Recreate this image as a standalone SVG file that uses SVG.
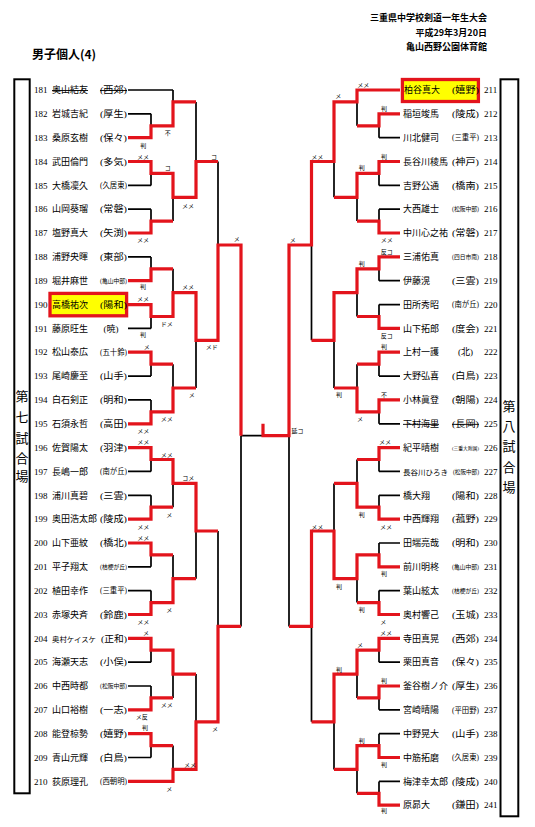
<svg xmlns="http://www.w3.org/2000/svg" width="535" height="827" viewBox="0 0 535 827">
<style>
.bk{fill:none;stroke:#000;stroke-width:1.7}
.rd{fill:none;stroke:#e3141c;stroke-width:3.2;stroke-linejoin:miter}
.frame{fill:none;stroke:#000;stroke-width:2}
.hl{fill:#ffff00;stroke:#e3141c;stroke-width:3.3}
.num{font-family:"Liberation Serif",serif;font-size:9px}
.nm{font-family:"Liberation Serif","Noto Sans CJK JP",serif;font-size:9px}
.sc{font-family:"Liberation Serif","Noto Sans CJK JP",serif;text-anchor:middle}
.s9{font-size:9px}.s75{font-size:7.5px}.s6{font-size:6px}.s5{font-size:5px}
.st{text-decoration:line-through}
.lb{font-family:"Noto Sans CJK JP",sans-serif;font-size:6px;text-anchor:middle;dominant-baseline:central}
.hd{font-family:"Noto Sans CJK JP",sans-serif;font-weight:bold;font-size:9px;text-anchor:end}
.vt{font-family:"Noto Sans CJK JP",sans-serif;font-size:13px;text-anchor:middle;dominant-baseline:central}
</style>
<rect width="535" height="827" fill="#fff"/>
<g id="header">
<text class="hd" x="487" y="21">三重県中学校剣道一年生大会</text>
<text class="hd" x="487" y="36">平成29年3月20日</text>
<text class="hd" x="487" y="50">亀山西野公園体育館</text>
<text x="32" y="59" style="font-family:'Noto Sans CJK JP',sans-serif;font-weight:bold;font-size:12px">男子個人(4)</text>
</g>
<g id="court7">
<rect class="frame" x="14.3" y="79.3" width="15.4" height="714"/>
<text class="vt" x="22" y="395">第</text><text class="vt" x="22" y="416">七</text><text class="vt" x="22" y="437">試</text><text class="vt" x="22" y="457">合</text><text class="vt" x="22" y="475">場</text>
</g>
<g id="court8">
<rect class="frame" x="500.5" y="79.3" width="17.8" height="737"/>
<text class="vt" x="509" y="405">第</text><text class="vt" x="509" y="425">八</text><text class="vt" x="509" y="445">試</text><text class="vt" x="509" y="466">合</text><text class="vt" x="509" y="486">場</text>
</g>
<g id="connectors">
<path class="bk" d="M128 90H173M128 113.8H151M128 185.4H151M128 209.2H151M128 256.9H151M128 328.4H151M128 376.1H151M128 399.9H151M128 471.4H151M128 495.3H151M128 566.8H151M128 590.6H151M128 662.2H151M128 686H151M128 757.5H151
M151 113.8V125.8M151 173.4V185.4M151 209.2V221.1M151 256.9V268.8M151 316.5V328.4M151 364.2V376.1M151 399.9V411.8M151 459.5V471.4M151 495.3V507.2M151 554.9V566.8M151 590.6V602.6M151 650.2V662.2M151 686V697.9M151 745.6V757.5
M173 90V101.9M173 197.3V221.1M173 268.8V292.6M173 364.2V388M173 483.4V507.2M173 554.9V578.7M173 674.1V697.9M173 745.6V769.4
M196 101.9V161.5M196 340.3V388M196 531V578.7M196 674.1V721.8
M218 161.5V245M218 531V626.4
M241 435.7V626.4M241 435.7H263
M379 137.7H400M379 185.4H400M379 209.2H400M379 280.7H400M379 304.6H400M379 376.1H400M379 423.8H400M379 471.4H400M379 495.3H400M379 543H400M379 590.6H400M379 662.2H400M379 709.8H400M379 733.7H400M379 781.4H400
M379 125.8V137.7M379 173.4V185.4M379 209.2V221.1M379 268.8V280.7M379 304.6V316.5M379 364.2V376.1M379 411.8V423.8M379 459.5V471.4M379 495.3V507.2M379 543V554.9M379 590.6V602.6M379 650.2V662.2M379 697.9V709.8M379 733.7V745.6M379 781.4V793.3
M357 101.9V125.8M357 197.3V221.1M357 292.6V316.5M357 364.2V388M357 459.5V483.4M357 578.7V602.6M357 674.1V697.9M357 769.4V793.3
M334 161.5V197.3M334 340.3V388M334 483.4V531M334 721.8V769.4
M311.5 245V340.3M311.5 626.4V721.8
M289 435.7V626.4"/>
<path class="rd" d="M128 137.7H151V125.8H173V101.9H196
M128 161.5H151V173.4H173V197.3H196V161.5H218
M128 233H151V221.1H173
M128 280.7H151V268.8H173
M128 304.6H151V316.5H173V292.6H196V340.3H218V245H241V435.7
M128 352.2H151V364.2H173
M128 423.8H151V411.8H173V388H196
M128 447.6H151V459.5H173V483.4H196V531H218
M128 519.1H151V507.2H173
M128 543H151V554.9H173
M128 614.5H151V602.6H173V578.7H196
M128 638.3H151V650.2H173V674.1H196
M128 709.8H151V697.9H173
M128 733.7H151V745.6H173
M128 781.4H173V769.4H196V721.8H218V626.4H241
M400 90H357V101.9H334V161.5H311.5V245H289V435.7H263V423.8
M400 113.8H379V125.8H357
M400 161.5H379V173.4H357V197.3H334
M400 233H379V221.1H357
M400 256.9H379V268.8H357V292.6H334V340.3H311.5
M400 328.4H379V316.5H357
M400 352.2H379V364.2H357
M400 399.9H379V411.8H357V388H334
M400 447.6H379V459.5H357
M400 519.1H379V507.2H357V483.4H334
M400 566.8H379V554.9H357V578.7H334V531H311.5V626.4H289
M400 614.5H379V602.6H357
M400 638.3H379V650.2H357V674.1H334V721.8H311.5
M400 686H379V697.9H357
M400 757.5H379V745.6H357V769.4H334
M400 805.2H379V793.3H357"/>
</g>
<g id="labels">
<text class="lb" x="167.7" y="132.3">不</text><text class="lb" x="143.3" y="145">判</text><text class="lb" x="143" y="156">メメ</text><text class="lb" x="167.7" y="167.7">コ</text><text class="lb" x="188" y="205">メメ</text><text class="lb" x="143" y="239">メメ</text><text class="lb" x="214" y="156">コ</text><text class="lb" x="236.7" y="238.3">メ</text><text class="lb" x="143" y="286.7">判</text><text class="lb" x="143" y="298">メメ</text><text class="lb" x="166.7" y="323">ドメ</text><text class="lb" x="143" y="334">判</text><text class="lb" x="188" y="286.7">メメ</text><text class="lb" x="211.7" y="346.7">メド</text><text class="lb" x="146.7" y="346.7">メ</text><text class="lb" x="191.7" y="394">メ</text><text class="lb" x="166.7" y="418">メメ</text><text class="lb" x="143.3" y="430">メメ</text><text class="lb" x="143.3" y="441.7">メメ</text><text class="lb" x="166.7" y="454">メメ</text><text class="lb" x="188.3" y="477.7">コメ</text><text class="lb" x="169.3" y="514">メ</text><text class="lb" x="143.3" y="526">メメ</text><text class="lb" x="143.3" y="537.7">メメ</text><text class="lb" x="169.3" y="609.3">メ</text><text class="lb" x="143.3" y="621">メメ</text><text class="lb" x="146" y="632.7">メ</text><text class="lb" x="166.7" y="704.3">メメ</text><text class="lb" x="141.7" y="716">メ反</text><text class="lb" x="145" y="727.3">判</text><text class="lb" x="215" y="728.3">メ</text><text class="lb" x="190" y="764">メメ</text><text class="lb" x="169.3" y="788.3">メ</text>
<text class="lb" x="363.3" y="84.3">メメ</text><text class="lb" x="338.3" y="95.7">メ</text><text class="lb" x="384" y="108.3">判</text><text class="lb" x="317.3" y="156">メメ</text><text class="lb" x="384" y="156">判</text><text class="lb" x="361.7" y="167.7">判</text><text class="lb" x="386.7" y="239">メメ</text><text class="lb" x="292.7" y="239">メ</text><text class="lb" x="386.7" y="251">反コ</text><text class="lb" x="361.7" y="263.3">判</text><text class="lb" x="386.7" y="335">反コ</text><text class="lb" x="384" y="346.7">判</text><text class="lb" x="339" y="394.3">判</text><text class="lb" x="384" y="394">不</text><text class="lb" x="360" y="418.3">メ</text><text class="lb" x="385" y="441.7">メメ</text><text class="lb" x="297.5" y="430">延コ</text><text class="lb" x="361.7" y="514">判</text><text class="lb" x="386" y="526">メメ</text><text class="lb" x="317.3" y="526">メメ</text><text class="lb" x="339" y="586">判</text><text class="lb" x="384" y="573.3">判</text><text class="lb" x="361.7" y="609.3">判</text><text class="lb" x="383.3" y="621">メ</text><text class="lb" x="386" y="632.7">メメ</text><text class="lb" x="360" y="644">メ</text><text class="lb" x="339" y="669.3">判</text><text class="lb" x="384" y="680">判</text><text class="lb" x="361.7" y="740">判</text><text class="lb" x="384" y="764">判</text><text class="lb" x="384" y="810">判</text>
</g>
<g id="left-players">
<g id="p181"><text class="num" x="34" y="93.2">181</text><text class="nm st" x="52" y="93.2">奥山結友</text><text class="sc s9 st" x="113.5" y="93.2" textLength="27" lengthAdjust="spacingAndGlyphs">(西郊)</text></g>
<g id="p182"><text class="num" x="34" y="117">182</text><text class="nm" x="52" y="117">岩城吉紀</text><text class="sc s9" x="113.5" y="117" textLength="27" lengthAdjust="spacingAndGlyphs">(厚生)</text></g>
<g id="p183"><text class="num" x="34" y="140.9">183</text><text class="nm" x="52" y="140.9">桑原玄樹</text><text class="sc s9" x="113.5" y="140.9" textLength="27" lengthAdjust="spacingAndGlyphs">(保々)</text></g>
<g id="p184"><text class="num" x="34" y="164.7">184</text><text class="nm" x="52" y="164.7">武田倫門</text><text class="sc s9" x="113.5" y="164.7" textLength="27" lengthAdjust="spacingAndGlyphs">(多気)</text></g>
<g id="p185"><text class="num" x="34" y="188.6">185</text><text class="nm" x="52" y="188.6">大橋凜久</text><text class="sc s75" x="113.5" y="188.1" textLength="27" lengthAdjust="spacingAndGlyphs">(久居東)</text></g>
<g id="p186"><text class="num" x="34" y="212.4">186</text><text class="nm" x="52" y="212.4">山岡葵瑠</text><text class="sc s9" x="113.5" y="212.4" textLength="27" lengthAdjust="spacingAndGlyphs">(常磐)</text></g>
<g id="p187"><text class="num" x="34" y="236.2">187</text><text class="nm" x="52" y="236.2">塩野真大</text><text class="sc s9" x="113.5" y="236.2" textLength="27" lengthAdjust="spacingAndGlyphs">(矢渕)</text></g>
<g id="p188"><text class="num" x="34" y="260.1">188</text><text class="nm" x="52" y="260.1">浦野央暉</text><text class="sc s9" x="113.5" y="260.1" textLength="27" lengthAdjust="spacingAndGlyphs">(東部)</text></g>
<g id="p189"><text class="num" x="34" y="283.9">189</text><text class="nm" x="52" y="283.9">堀井麻世</text><text class="sc s6" x="113.5" y="282.9" textLength="27" lengthAdjust="spacingAndGlyphs">(亀山中部)</text></g>
<g id="p190"><text class="num" x="34" y="307.8">190</text><rect class="hl" x="50" y="293.4" width="76.6" height="22.4"/><text class="nm" x="52" y="307.8">高橋祐次</text><text class="sc s9" x="113.5" y="307.8" textLength="27" lengthAdjust="spacingAndGlyphs">(陽和)</text></g>
<g id="p191"><text class="num" x="34" y="331.6">191</text><text class="nm" x="52" y="331.6">藤原旺生</text><text class="sc s9" x="111" y="331.6">(暁)</text></g>
<g id="p192"><text class="num" x="34" y="355.4">192</text><text class="nm" x="52" y="355.4">松山泰広</text><text class="sc s75" x="113.5" y="354.9" textLength="27" lengthAdjust="spacingAndGlyphs">(五十鈴)</text></g>
<g id="p193"><text class="num" x="34" y="379.3">193</text><text class="nm" x="52" y="379.3">尾崎慶至</text><text class="sc s9" x="113.5" y="379.3" textLength="27" lengthAdjust="spacingAndGlyphs">(山手)</text></g>
<g id="p194"><text class="num" x="34" y="403.1">194</text><text class="nm" x="52" y="403.1">白石剣正</text><text class="sc s9" x="113.5" y="403.1" textLength="27" lengthAdjust="spacingAndGlyphs">(明和)</text></g>
<g id="p195"><text class="num" x="34" y="427">195</text><text class="nm" x="52" y="427">石須永哲</text><text class="sc s9" x="113.5" y="427" textLength="27" lengthAdjust="spacingAndGlyphs">(高田)</text></g>
<g id="p196"><text class="num" x="34" y="450.8">196</text><text class="nm" x="52" y="450.8">佐賀陽太</text><text class="sc s9" x="113.5" y="450.8" textLength="27" lengthAdjust="spacingAndGlyphs">(羽津)</text></g>
<g id="p197"><text class="num" x="34" y="474.6">197</text><text class="nm" x="52" y="474.6">長嶋一郎</text><text class="sc s75" x="113.5" y="474.1" textLength="27" lengthAdjust="spacingAndGlyphs">(南が丘)</text></g>
<g id="p198"><text class="num" x="34" y="498.5">198</text><text class="nm" x="52" y="498.5">浦川真碧</text><text class="sc s9" x="113.5" y="498.5" textLength="27" lengthAdjust="spacingAndGlyphs">(三雲)</text></g>
<g id="p199"><text class="num" x="34" y="522.3">199</text><text class="nm" x="52" y="522.3">奥田浩太郎</text><text class="sc s9" x="113.5" y="522.3" textLength="27" lengthAdjust="spacingAndGlyphs">(陵成)</text></g>
<g id="p200"><text class="num" x="34" y="546.2">200</text><text class="nm" x="52" y="546.2">山下亜紋</text><text class="sc s9" x="113.5" y="546.2" textLength="27" lengthAdjust="spacingAndGlyphs">(橋北)</text></g>
<g id="p201"><text class="num" x="34" y="570">201</text><text class="nm" x="52" y="570">平子翔太</text><text class="sc s6" x="113.5" y="569" textLength="27" lengthAdjust="spacingAndGlyphs">(桔梗が丘)</text></g>
<g id="p202"><text class="num" x="34" y="593.8">202</text><text class="nm" x="52" y="593.8">植田幸作</text><text class="sc s75" x="113.5" y="593.3" textLength="27" lengthAdjust="spacingAndGlyphs">(三重平)</text></g>
<g id="p203"><text class="num" x="34" y="617.7">203</text><text class="nm" x="52" y="617.7">赤塚央斉</text><text class="sc s9" x="113.5" y="617.7" textLength="27" lengthAdjust="spacingAndGlyphs">(鈴鹿)</text></g>
<g id="p204"><text class="num" x="34" y="641.5">204</text><text class="nm" x="52" y="641.5" style="font-size:7.4px" textLength="44" lengthAdjust="spacingAndGlyphs">奥村ケイスケ</text><text class="sc s9" x="114" y="641.5" textLength="26" lengthAdjust="spacingAndGlyphs">(正和)</text></g>
<g id="p205"><text class="num" x="34" y="665.4">205</text><text class="nm" x="52" y="665.4">海瀬天志</text><text class="sc s9" x="113.5" y="665.4" textLength="27" lengthAdjust="spacingAndGlyphs">(小俣)</text></g>
<g id="p206"><text class="num" x="34" y="689.2">206</text><text class="nm" x="52" y="689.2">中西時都</text><text class="sc s6" x="113.5" y="688.2" textLength="27" lengthAdjust="spacingAndGlyphs">(松阪中部)</text></g>
<g id="p207"><text class="num" x="34" y="713">207</text><text class="nm" x="52" y="713">山口裕樹</text><text class="sc s9" x="113.5" y="713" textLength="27" lengthAdjust="spacingAndGlyphs">(一志)</text></g>
<g id="p208"><text class="num" x="34" y="736.9">208</text><text class="nm" x="52" y="736.9">能登椋勢</text><text class="sc s9" x="113.5" y="736.9" textLength="27" lengthAdjust="spacingAndGlyphs">(嬉野)</text></g>
<g id="p209"><text class="num" x="34" y="760.7">209</text><text class="nm" x="52" y="760.7">青山元輝</text><text class="sc s9" x="113.5" y="760.7" textLength="27" lengthAdjust="spacingAndGlyphs">(白鳥)</text></g>
<g id="p210"><text class="num" x="34" y="784.6">210</text><text class="nm" x="52" y="784.6">荻原理孔</text><text class="sc s75" x="113.5" y="784.1" textLength="27" lengthAdjust="spacingAndGlyphs">(西朝明)</text></g>
</g>
<g id="right-players">
<g id="p211"><rect class="hl" x="402.4" y="79.5" width="76" height="22"/><text class="nm" x="404" y="93.2">柏谷真大</text><text class="sc s9" x="465.5" y="93.2" textLength="27" lengthAdjust="spacingAndGlyphs">(嬉野)</text><text class="num" x="484" y="93.2">211</text></g>
<g id="p212"><text class="nm" x="403" y="117">稲垣竣馬</text><text class="sc s9" x="465.5" y="117" textLength="27" lengthAdjust="spacingAndGlyphs">(陵成)</text><text class="num" x="484" y="117">212</text></g>
<g id="p213"><text class="nm" x="403" y="140.9">川北健司</text><text class="sc s75" x="465.5" y="140.4" textLength="27" lengthAdjust="spacingAndGlyphs">(三重平)</text><text class="num" x="484" y="140.9">213</text></g>
<g id="p214"><text class="nm" x="403" y="164.7">長谷川稜馬</text><text class="sc s9" x="465.5" y="164.7" textLength="27" lengthAdjust="spacingAndGlyphs">(神戸)</text><text class="num" x="484" y="164.7">214</text></g>
<g id="p215"><text class="nm" x="403" y="188.6">吉野公通</text><text class="sc s9" x="465.5" y="188.6" textLength="27" lengthAdjust="spacingAndGlyphs">(橋南)</text><text class="num" x="484" y="188.6">215</text></g>
<g id="p216"><text class="nm" x="403" y="212.4">大西雄士</text><text class="sc s6" x="465.5" y="211.4" textLength="27" lengthAdjust="spacingAndGlyphs">(松阪中部)</text><text class="num" x="484" y="212.4">216</text></g>
<g id="p217"><text class="nm" x="403" y="236.2">中川心之祐</text><text class="sc s9" x="465.5" y="236.2" textLength="27" lengthAdjust="spacingAndGlyphs">(常磐)</text><text class="num" x="484" y="236.2">217</text></g>
<g id="p218"><text class="nm" x="403" y="260.1">三浦佑真</text><text class="sc s6" x="465.5" y="259.1" textLength="27" lengthAdjust="spacingAndGlyphs">(四日市南)</text><text class="num" x="484" y="260.1">218</text></g>
<g id="p219"><text class="nm" x="403" y="283.9">伊藤滉</text><text class="sc s9" x="465.5" y="283.9" textLength="27" lengthAdjust="spacingAndGlyphs">(三雲)</text><text class="num" x="484" y="283.9">219</text></g>
<g id="p220"><text class="nm" x="403" y="307.8">田所秀昭</text><text class="sc s75" x="465.5" y="307.3" textLength="27" lengthAdjust="spacingAndGlyphs">(南が丘)</text><text class="num" x="484" y="307.8">220</text></g>
<g id="p221"><text class="nm" x="403" y="331.6">山下拓郎</text><text class="sc s9" x="465.5" y="331.6" textLength="27" lengthAdjust="spacingAndGlyphs">(度会)</text><text class="num" x="484" y="331.6">221</text></g>
<g id="p222"><text class="nm" x="403" y="355.4">上村一護</text><text class="sc s9" x="465.5" y="355.4">(北)</text><text class="num" x="484" y="355.4">222</text></g>
<g id="p223"><text class="nm" x="403" y="379.3">大野弘喜</text><text class="sc s9" x="465.5" y="379.3" textLength="27" lengthAdjust="spacingAndGlyphs">(白鳥)</text><text class="num" x="484" y="379.3">223</text></g>
<g id="p224"><text class="nm" x="403" y="403.1">小林眞登</text><text class="sc s9" x="465.5" y="403.1" textLength="27" lengthAdjust="spacingAndGlyphs">(朝陽)</text><text class="num" x="484" y="403.1">224</text></g>
<g id="p225"><text class="nm st" x="403" y="427">下村海里</text><text class="sc s9 st" x="465.5" y="427" textLength="27" lengthAdjust="spacingAndGlyphs">(長岡)</text><text class="num" x="484" y="427">225</text></g>
<g id="p226"><text class="nm" x="403" y="450.8">紀平晴樹</text><text class="sc s5" x="465.5" y="449.6" textLength="27" lengthAdjust="spacingAndGlyphs">(三重大附属)</text><text class="num" x="484" y="450.8">226</text></g>
<g id="p227"><text class="nm" x="403" y="474.6" style="font-size:7.4px" textLength="45" lengthAdjust="spacingAndGlyphs">長谷川ひろき</text><text class="sc s6" x="466" y="473.6" textLength="26" lengthAdjust="spacingAndGlyphs">(松阪中部)</text><text class="num" x="484" y="474.6">227</text></g>
<g id="p228"><text class="nm" x="403" y="498.5">橋大翔</text><text class="sc s9" x="465.5" y="498.5" textLength="27" lengthAdjust="spacingAndGlyphs">(陽和)</text><text class="num" x="484" y="498.5">228</text></g>
<g id="p229"><text class="nm" x="403" y="522.3">中西輝翔</text><text class="sc s9" x="465.5" y="522.3" textLength="27" lengthAdjust="spacingAndGlyphs">(菰野)</text><text class="num" x="484" y="522.3">229</text></g>
<g id="p230"><text class="nm" x="403" y="546.2">田端亮哉</text><text class="sc s9" x="465.5" y="546.2" textLength="27" lengthAdjust="spacingAndGlyphs">(明和)</text><text class="num" x="484" y="546.2">230</text></g>
<g id="p231"><text class="nm" x="403" y="570">前川明柊</text><text class="sc s6" x="465.5" y="569" textLength="27" lengthAdjust="spacingAndGlyphs">(亀山中部)</text><text class="num" x="484" y="570">231</text></g>
<g id="p232"><text class="nm" x="403" y="593.8">葉山絃太</text><text class="sc s6" x="465.5" y="592.8" textLength="27" lengthAdjust="spacingAndGlyphs">(桔梗が丘)</text><text class="num" x="484" y="593.8">232</text></g>
<g id="p233"><text class="nm" x="403" y="617.7">奥村響己</text><text class="sc s9" x="465.5" y="617.7" textLength="27" lengthAdjust="spacingAndGlyphs">(玉城)</text><text class="num" x="484" y="617.7">233</text></g>
<g id="p234"><text class="nm" x="403" y="641.5">寺田真晃</text><text class="sc s9" x="465.5" y="641.5" textLength="27" lengthAdjust="spacingAndGlyphs">(西郊)</text><text class="num" x="484" y="641.5">234</text></g>
<g id="p235"><text class="nm" x="403" y="665.4">栗田真音</text><text class="sc s9" x="465.5" y="665.4" textLength="27" lengthAdjust="spacingAndGlyphs">(保々)</text><text class="num" x="484" y="665.4">235</text></g>
<g id="p236"><text class="nm" x="403" y="689.2">釜谷樹ノ介</text><text class="sc s9" x="465.5" y="689.2" textLength="27" lengthAdjust="spacingAndGlyphs">(厚生)</text><text class="num" x="484" y="689.2">236</text></g>
<g id="p237"><text class="nm" x="403" y="713">宮崎晴陽</text><text class="sc s75" x="465.5" y="712.5" textLength="27" lengthAdjust="spacingAndGlyphs">(平田野)</text><text class="num" x="484" y="713">237</text></g>
<g id="p238"><text class="nm" x="403" y="736.9">中野晃大</text><text class="sc s9" x="465.5" y="736.9" textLength="27" lengthAdjust="spacingAndGlyphs">(山手)</text><text class="num" x="484" y="736.9">238</text></g>
<g id="p239"><text class="nm" x="403" y="760.7">中筋拓磨</text><text class="sc s75" x="465.5" y="760.2" textLength="27" lengthAdjust="spacingAndGlyphs">(久居東)</text><text class="num" x="484" y="760.7">239</text></g>
<g id="p240"><text class="nm" x="403" y="784.6">梅津幸太郎</text><text class="sc s9" x="465.5" y="784.6" textLength="27" lengthAdjust="spacingAndGlyphs">(陵成)</text><text class="num" x="484" y="784.6">240</text></g>
<g id="p241"><text class="nm" x="403" y="808.4">原昴大</text><text class="sc s9" x="465.5" y="808.4" textLength="27" lengthAdjust="spacingAndGlyphs">(鎌田)</text><text class="num" x="484" y="808.4">241</text></g>
</g>
</svg>
